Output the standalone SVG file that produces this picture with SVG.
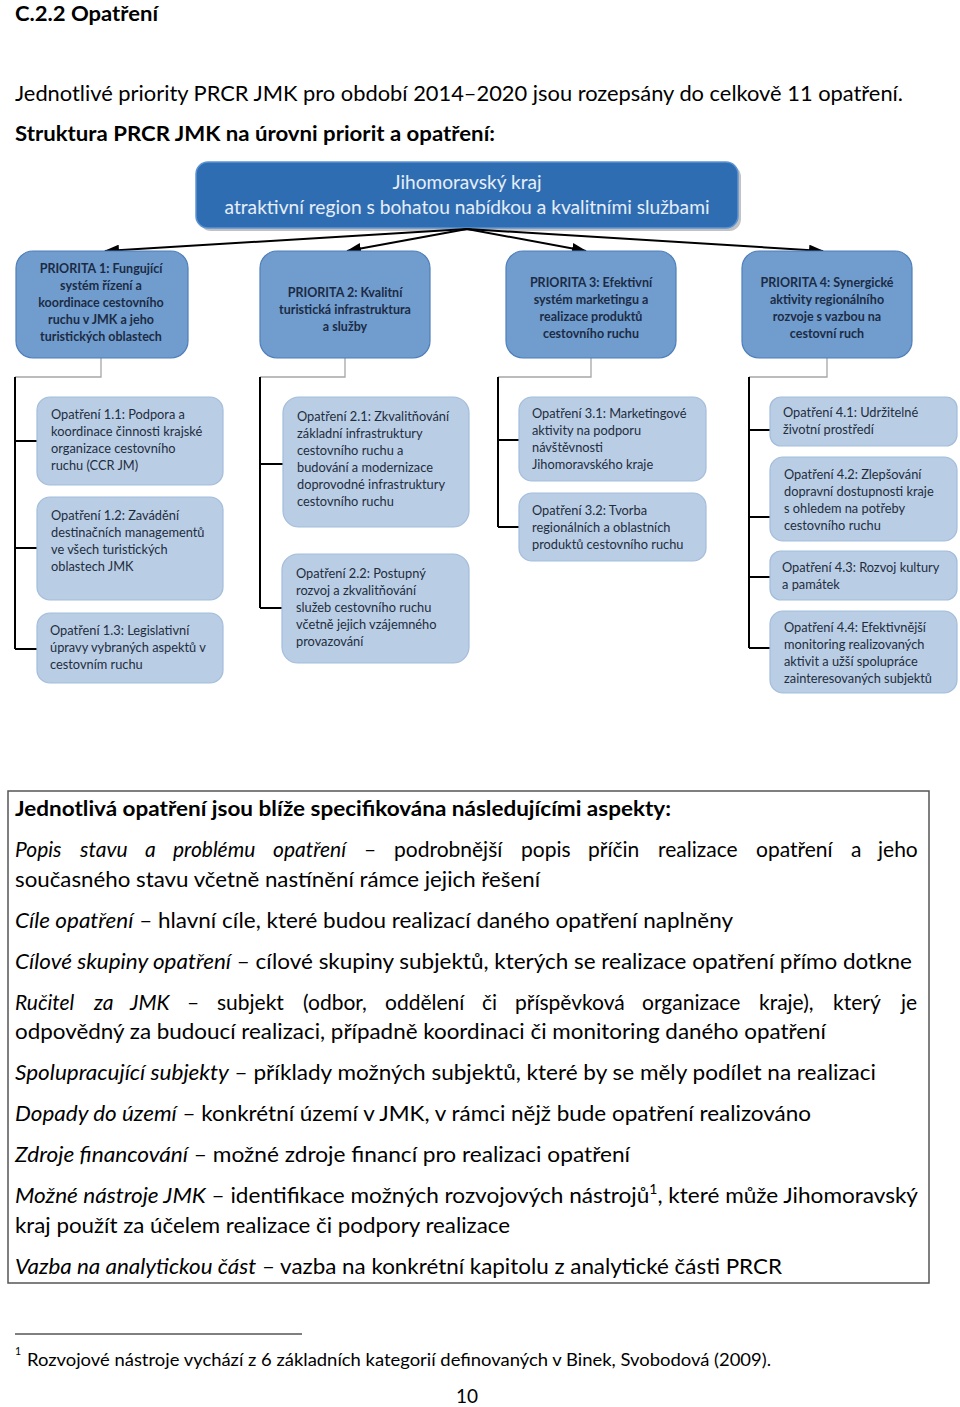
<svg xmlns="http://www.w3.org/2000/svg" width="960" height="1407" viewBox="0 0 960 1407">
<style>
.body{font-family:Lato,"Liberation Sans",sans-serif;font-size:21px;fill:#000}
.b{font-weight:bold}
.i{font-style:italic}
.pr{fill:#709dcd;stroke:#4f7fba;stroke-width:1.2}
.prt{font-family:Lato,"Liberation Sans",sans-serif;font-size:12.5px;font-weight:bold;fill:#1c2b45;text-anchor:middle}
.ms{fill:#b9cde5;stroke:#a3bddc;stroke-width:1.2}
.mt{font-family:Lato,"Liberation Sans",sans-serif;font-size:12.8px;fill:#1f2d3d}
.tt{font-family:Lato,"Liberation Sans",sans-serif;font-size:18.5px;fill:#e6eef8;text-anchor:middle}
.arr{stroke:#000;stroke-width:2;fill:none}
.gr{stroke:#a6a6a6;stroke-width:1.3;fill:none}
.bl{stroke:#000;stroke-width:2;fill:none}
</style>
<defs>
<marker id="ah" markerUnits="userSpaceOnUse" markerWidth="15" markerHeight="11" refX="14" refY="5.5" orient="auto">
<path d="M0,0 L15,5.5 L0,11 Z" fill="#000"/>
</marker>
</defs>
<rect width="960" height="1407" fill="#fff"/>

<text class="body b" style="font-size:20px" x="15" y="20.5" textLength="143" lengthAdjust="spacingAndGlyphs">C.2.2 Opatření</text>
<text class="body" x="15" y="101" textLength="888" lengthAdjust="spacingAndGlyphs">Jednotlivé priority PRCR JMK pro období 2014–2020 jsou rozepsány do celkově 11 opatření.</text>
<text class="body b" x="15" y="141" textLength="480" lengthAdjust="spacingAndGlyphs">Struktura PRCR JMK na úrovni priorit a opatření:</text>

<g id="root">
<rect x="199" y="165" width="542" height="66" rx="12" fill="#9a9a9a" opacity="0.6"/>
<rect x="196" y="162" width="542" height="66" rx="12" fill="#2f6db3" stroke="#5d93d3" stroke-width="1.5"/>
<text class="tt" x="467" y="189" textLength="149" lengthAdjust="spacingAndGlyphs">Jihomoravský kraj</text>
<text class="tt" x="467" y="214" textLength="485" lengthAdjust="spacingAndGlyphs">atraktivní region s bohatou nabídkou a kvalitními službami</text>
</g>

<g id="connectors">
<line class="arr" x1="467" y1="229" x2="105" y2="251" marker-end="url(#ah)"/>
<line class="arr" x1="467" y1="229" x2="347" y2="251" marker-end="url(#ah)"/>
<line class="arr" x1="467" y1="229" x2="586" y2="251" marker-end="url(#ah)"/>
<line class="arr" x1="467" y1="229" x2="823" y2="251" marker-end="url(#ah)"/>
<polyline class="gr" points="101,358 101,377 15,377"/>
<polyline class="gr" points="345,358 345,377 260,377"/>
<polyline class="gr" points="591,358 591,377 498,377"/>
<polyline class="gr" points="827,358 827,377 749,377"/>
<path class="bl" d="M15,377 V649 M15,441 H37 M15,548 H37 M15,649 H37"/>
<path class="bl" d="M260,377 V608 M260,464 H283 M260,608 H282"/>
<path class="bl" d="M498,377 V527 M498,440 H519 M498,527 H519"/>
<path class="bl" d="M749,377 V648 M749,430 H770 M749,517 H770 M749,577 H770 M749,648 H770"/>
</g>

<g id="p1">
<rect class="pr" x="16" y="251" width="172" height="107" rx="17"/>
<text class="prt"><tspan x="101" y="273">PRIORITA 1: Fungující</tspan><tspan x="101" y="290">systém řízení a</tspan><tspan x="101" y="307">koordinace cestovního</tspan><tspan x="101" y="324">ruchu v JMK a jeho</tspan><tspan x="101" y="341">turistických oblastech</tspan></text>
</g>
<g id="p2">
<rect class="pr" x="260" y="251" width="170" height="107" rx="17"/>
<text class="prt"><tspan x="345" y="297">PRIORITA 2: Kvalitní</tspan><tspan x="345" y="314">turistická infrastruktura</tspan><tspan x="345" y="331">a služby</tspan></text>
</g>
<g id="p3">
<rect class="pr" x="506" y="251" width="170" height="107" rx="17"/>
<text class="prt"><tspan x="591" y="287">PRIORITA 3: Efektivní</tspan><tspan x="591" y="304">systém marketingu a</tspan><tspan x="591" y="321">realizace produktů</tspan><tspan x="591" y="338">cestovního ruchu</tspan></text>
</g>
<g id="p4">
<rect class="pr" x="742" y="251" width="170" height="107" rx="17"/>
<text class="prt"><tspan x="827" y="287">PRIORITA 4: Synergické</tspan><tspan x="827" y="304">aktivity regionálního</tspan><tspan x="827" y="321">rozvoje s vazbou na</tspan><tspan x="827" y="338">cestovní ruch</tspan></text>
</g>

<g id="m11">
<rect class="ms" x="37" y="397" width="186" height="88" rx="13"/>
<text class="mt"><tspan x="51" y="419">Opatření 1.1: Podpora a</tspan><tspan x="51" y="436">koordinace činnosti krajské</tspan><tspan x="51" y="453">organizace cestovního</tspan><tspan x="51" y="470">ruchu (CCR JM)</tspan></text>
</g>
<g id="m12">
<rect class="ms" x="37" y="497" width="186" height="103" rx="13"/>
<text class="mt"><tspan x="51" y="520">Opatření 1.2: Zavádění</tspan><tspan x="51" y="537">destinačních managementů</tspan><tspan x="51" y="554">ve všech turistických</tspan><tspan x="51" y="571">oblastech JMK</tspan></text>
</g>
<g id="m13">
<rect class="ms" x="37" y="613" width="186" height="70" rx="13"/>
<text class="mt"><tspan x="50" y="635">Opatření 1.3: Legislativní</tspan><tspan x="50" y="652">úpravy vybraných aspektů v</tspan><tspan x="50" y="669">cestovním ruchu</tspan></text>
</g>
<g id="m21">
<rect class="ms" x="283" y="397" width="186" height="130" rx="16"/>
<text class="mt"><tspan x="297" y="421">Opatření 2.1: Zkvalitňování</tspan><tspan x="297" y="438">základní infrastruktury</tspan><tspan x="297" y="455">cestovního ruchu a</tspan><tspan x="297" y="472">budování a modernizace</tspan><tspan x="297" y="489">doprovodné infrastruktury</tspan><tspan x="297" y="506">cestovního ruchu</tspan></text>
</g>
<g id="m22">
<rect class="ms" x="282" y="554" width="187" height="109" rx="16"/>
<text class="mt"><tspan x="296" y="578">Opatření 2.2: Postupný</tspan><tspan x="296" y="595">rozvoj a zkvalitňování</tspan><tspan x="296" y="612">služeb cestovního ruchu</tspan><tspan x="296" y="629">včetně jejich vzájemného</tspan><tspan x="296" y="646">provazování</tspan></text>
</g>
<g id="m31">
<rect class="ms" x="519" y="397" width="187" height="84" rx="13"/>
<text class="mt"><tspan x="532" y="418">Opatření 3.1: Marketingové</tspan><tspan x="532" y="435">aktivity na podporu</tspan><tspan x="532" y="452">návštěvnosti</tspan><tspan x="532" y="469">Jihomoravského kraje</tspan></text>
</g>
<g id="m32">
<rect class="ms" x="519" y="493" width="187" height="68" rx="13"/>
<text class="mt"><tspan x="532" y="515">Opatření 3.2: Tvorba</tspan><tspan x="532" y="532">regionálních a oblastních</tspan><tspan x="532" y="549">produktů cestovního ruchu</tspan></text>
</g>
<g id="m41">
<rect class="ms" x="770" y="397" width="187" height="49" rx="11"/>
<text class="mt"><tspan x="783" y="417">Opatření 4.1: Udržitelné</tspan><tspan x="783" y="434">životní prostředí</tspan></text>
</g>
<g id="m42">
<rect class="ms" x="770" y="457" width="187" height="84" rx="13"/>
<text class="mt"><tspan x="784" y="479">Opatření 4.2: Zlepšování</tspan><tspan x="784" y="496">dopravní dostupnosti kraje</tspan><tspan x="784" y="513">s ohledem na potřeby</tspan><tspan x="784" y="530">cestovního ruchu</tspan></text>
</g>
<g id="m43">
<rect class="ms" x="770" y="551" width="187" height="49" rx="11"/>
<text class="mt"><tspan x="782" y="572">Opatření 4.3: Rozvoj kultury</tspan><tspan x="782" y="589">a památek</tspan></text>
</g>
<g id="m44">
<rect class="ms" x="770" y="611" width="187" height="82" rx="13"/>
<text class="mt"><tspan x="784" y="632">Opatření 4.4: Efektivnější</tspan><tspan x="784" y="649">monitoring realizovaných</tspan><tspan x="784" y="666">aktivit a užší spolupráce</tspan><tspan x="784" y="683">zainteresovaných subjektů</tspan></text>
</g>

<g id="aspects">
<rect x="8" y="791" width="921" height="492" fill="none" stroke="#555" stroke-width="1.5"/>
<text class="body b" x="15" y="816" textLength="656" lengthAdjust="spacingAndGlyphs">Jednotlivá opatření jsou blíže specifikována následujícími aspekty:</text>
<text class="body"><tspan class="i" x="15" y="857">Popis</tspan><tspan class="i" x="80">stavu</tspan><tspan class="i" x="145">a</tspan><tspan class="i" x="173">problému</tspan><tspan class="i" x="273">opatření</tspan><tspan x="364">–</tspan><tspan x="394">podrobnější</tspan><tspan x="521">popis</tspan><tspan x="588">příčin</tspan><tspan x="658">realizace</tspan><tspan x="756">opatření</tspan><tspan x="851">a</tspan><tspan x="878">jeho</tspan></text>
<text class="body" x="15" y="887" textLength="525" lengthAdjust="spacingAndGlyphs">současného stavu včetně nastínění rámce jejich řešení</text>
<text class="body" x="15" y="928" textLength="718" lengthAdjust="spacingAndGlyphs"><tspan class="i">Cíle opatření</tspan> – hlavní cíle, které budou realizací daného opatření naplněny</text>
<text class="body" x="15" y="969" textLength="897" lengthAdjust="spacingAndGlyphs"><tspan class="i">Cílové skupiny opatření</tspan> – cílové skupiny subjektů, kterých se realizace opatření přímo dotkne</text>
<text class="body"><tspan class="i" x="15" y="1010">Ručitel</tspan><tspan class="i" x="94">za</tspan><tspan class="i" x="130">JMK</tspan><tspan x="187">–</tspan><tspan x="217">subjekt</tspan><tspan x="303">(odbor,</tspan><tspan x="385">oddělení</tspan><tspan x="482">či</tspan><tspan x="515">příspěvková</tspan><tspan x="642">organizace</tspan><tspan x="759">kraje),</tspan><tspan x="833">který</tspan><tspan x="901">je</tspan></text>
<text class="body" x="15" y="1039" textLength="811" lengthAdjust="spacingAndGlyphs">odpovědný za budoucí realizaci, případně koordinaci či monitoring daného opatření</text>
<text class="body" x="15" y="1080" textLength="861" lengthAdjust="spacingAndGlyphs"><tspan class="i">Spolupracující subjekty</tspan> – příklady možných subjektů, které by se měly podílet na realizaci</text>
<text class="body" x="15" y="1121" textLength="796" lengthAdjust="spacingAndGlyphs"><tspan class="i">Dopady do území</tspan> – konkrétní území v JMK, v rámci nějž bude opatření realizováno</text>
<text class="body" x="15" y="1162" textLength="615" lengthAdjust="spacingAndGlyphs"><tspan class="i">Zdroje financování</tspan> – možné zdroje financí pro realizaci opatření</text>
<text class="body" x="15" y="1203" textLength="903" lengthAdjust="spacingAndGlyphs"><tspan class="i">Možné nástroje JMK</tspan> – identifikace možných rozvojových nástrojů<tspan style="font-size:13px" dy="-9">1</tspan><tspan dy="9">, které může Jihomoravský</tspan></text>
<text class="body" x="15" y="1233" textLength="495" lengthAdjust="spacingAndGlyphs">kraj použít za účelem realizace či podpory realizace</text>
<text class="body" x="15" y="1274" textLength="767" lengthAdjust="spacingAndGlyphs"><tspan class="i">Vazba na analytickou část</tspan> – vazba na konkrétní kapitolu z analytické části PRCR</text>
</g>

<line x1="15" y1="1334" x2="302" y2="1334" stroke="#000" stroke-width="1"/>
<text class="body" style="font-size:10.5px" x="15" y="1355">1</text>
<text class="body" style="font-size:16.5px" x="27" y="1366" textLength="744" lengthAdjust="spacingAndGlyphs">Rozvojové nástroje vychází z 6 základních kategorií definovaných v Binek, Svobodová (2009).</text>
<text class="body" style="font-size:19px" x="467" y="1403" text-anchor="middle">10</text>
</svg>
